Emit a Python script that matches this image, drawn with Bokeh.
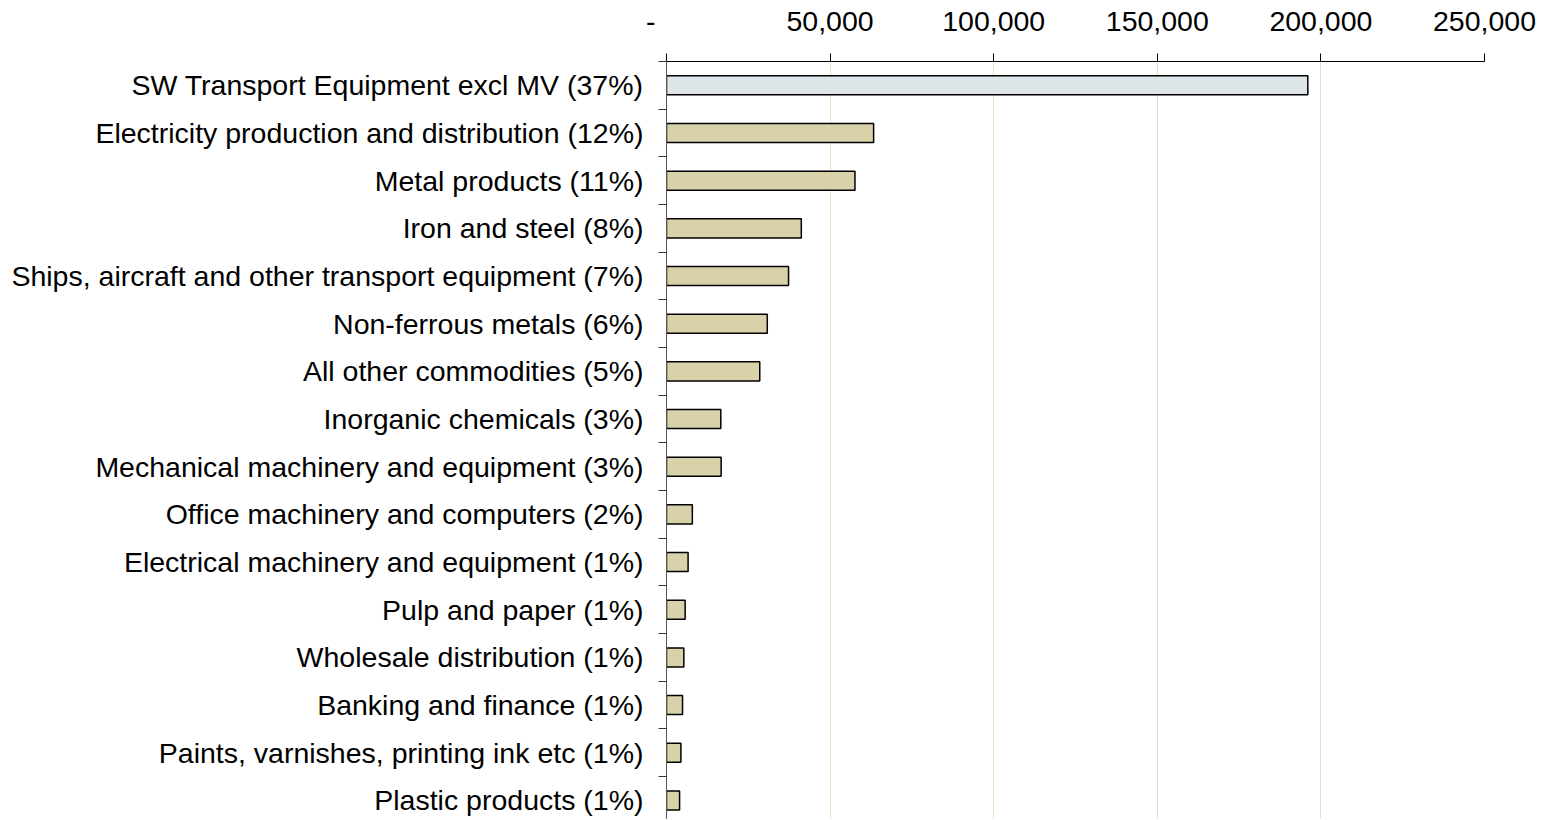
from bokeh.plotting import figure
from bokeh.models import ColumnDataSource, Range1d, FixedTicker
from bokeh.embed import file_html
from bokeh.resources import INLINE

categories = [
    "SW Transport Equipment excl MV (37%)",
    "Electricity production and distribution (12%)",
    "Metal products (11%)",
    "Iron and steel (8%)",
    "Ships, aircraft and other transport equipment (7%)",
    "Non-ferrous metals (6%)",
    "All other commodities (5%)",
    "Inorganic chemicals (3%)",
    "Mechanical machinery and equipment (3%)",
    "Office machinery and computers (2%)",
    "Electrical machinery and equipment (1%)",
    "Pulp and paper (1%)",
    "Wholesale distribution (1%)",
    "Banking and finance (1%)",
    "Paints, varnishes, printing ink etc (1%)",
    "Plastic products (1%)",
]
values = [196000, 63300, 57600, 41200, 37300, 30800, 28500, 16600,
          16700, 7900, 6600, 5700, 5300, 4900, 4400, 4000]
x_ticks = [0, 50000, 100000, 150000, 200000, 250000]
x_tick_labels = ["-\u00a0\u00a0\u00a0\u00a0", "50,000", "100,000", "150,000", "200,000", "250,000"]

HIGHLIGHT = "#DDE5E8"
BASE = "#D9D1A9"

n = len(categories)
pos = list(range(n))
colors = [HIGHLIGHT if i == 0 else BASE for i in pos]
src = ColumnDataSource(dict(y=pos, v=values, c=colors, cat=categories))

FONT = "Liberation Sans"
FS = "28.5px"

p = figure(width=1540, height=819, output_backend="svg", toolbar_location=None,
           x_range=Range1d(0, 250000), y_range=Range1d(n - 0.6, -0.5),
           x_axis_location="above", min_border_left=666, min_border_right=56,
           min_border_top=61, min_border_bottom=0)
p.outline_line_color = None
p.background_fill_color = "white"
p.border_fill_color = "white"

p.hbar(y="y", right="v", left=0, height=0.4, source=src,
       fill_color="c", line_color="black", line_width=1.5)

# x axis (top)
xa = p.xaxis[0]
xa.ticker = FixedTicker(ticks=x_ticks)
xa.major_label_overrides = {t: l for t, l in zip(x_ticks, x_tick_labels)}
xa.major_label_text_font = FONT
xa.major_label_text_font_size = FS
xa.major_label_text_color = "black"
xa.axis_line_color = "black"
xa.axis_line_width = 1
xa.major_tick_line_color = "black"
xa.major_tick_in = 0
xa.major_tick_out = 8
xa.minor_tick_line_color = None
xa.major_label_standoff = 17

# y axis (left)
ya = p.yaxis[0]
ya.ticker = FixedTicker(ticks=pos, minor_ticks=[i - 0.5 for i in range(n + 1)])
ya.major_label_overrides = {i: c for i, c in zip(pos, categories)}
ya.major_label_text_font = FONT
ya.major_label_text_font_size = FS
ya.major_label_text_color = "black"
ya.axis_line_color = "#555555"
ya.axis_line_width = 1
ya.major_tick_in = 0
ya.major_tick_out = 0
ya.major_tick_line_color = None
ya.minor_tick_in = 0
ya.minor_tick_out = 8
ya.minor_tick_line_color = "#333333"
ya.major_label_standoff = 15

p.xgrid.ticker = FixedTicker(ticks=x_ticks[1:])
p.xgrid.grid_line_color = "#E6DFC0"
p.xgrid.grid_line_width = 1
p.ygrid.grid_line_color = None

open("out.html", "w").write(file_html(p, INLINE))
